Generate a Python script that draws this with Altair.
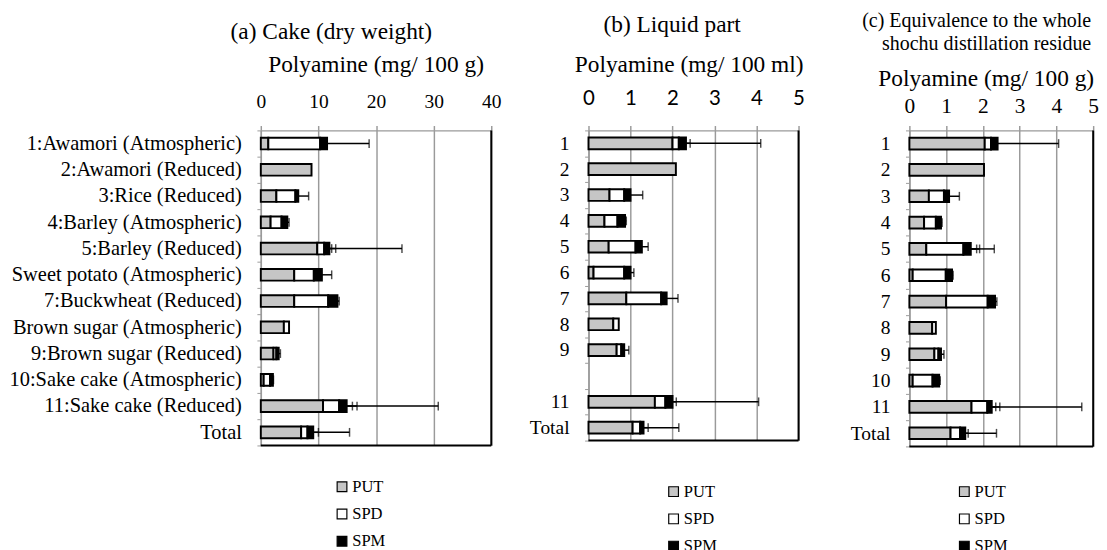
import altair as alt
import pandas as pd

SERIF = "Liberation Serif"
SANS = "Lato"
GRID = "#9a9a9a"

SERIES = ["PUT", "SPD", "SPM"]
SERIES_FILL = ["#c6c6c6", "#ffffff", "#000000"]

# ---------------- (a) Cake (dry weight) ----------------
cats_a = ["1:Awamori (Atmospheric)", "2:Awamori (Reduced)", "3:Rice (Reduced)",
          "4:Barley (Atmospheric)", "5:Barley (Reduced)", "Sweet potato (Atmospheric)",
          "7:Buckwheat (Reduced)", "Brown sugar (Atmospheric)", "9:Brown sugar (Reduced)",
          "10:Sake cake (Atmospheric)", "11:Sake cake (Reduced)", "Total"]
put_a = [1.3, 8.8, 2.7, 1.7, 9.8, 5.8, 5.8, 4.0, 2.2, 0.5, 10.8, 7.0]
spd_a = [9.0, 0.0, 3.3, 1.9, 1.2, 3.4, 5.9, 0.9, 0.5, 1.1, 2.8, 1.1]
spm_a = [1.2, 0.0, 0.5, 1.0, 0.9, 1.4, 1.6, 0.0, 0.4, 0.5, 1.3, 1.0]
put_err_a = [0.5, 0.0, 0.4, 0.3, 3.2, 0.5, 0.6, 0.0, 0.2, 0.1, 5.9, 0.8]
spd_err_a = [0.9, 0.0, 0.3, 0.3, 1.3, 0.5, 0.5, 0.0, 0.2, 0.2, 2.3, 1.9]
spm_err_a = [7.3, 0.0, 1.8, 0.3, 12.6, 1.7, 0.3, 0.0, 0.3, 0.1, 15.9, 6.3]
ticks_a = [0, 10, 20, 30, 40]

# ---------------- (b) Liquid part ----------------
cats_bc = ["1", "2", "3", "4", "5", "6", "7", "8", "9", "10", "11", "Total"]
put_b = [2.0, 2.08, 0.5, 0.38, 0.48, 0.12, 0.9, 0.59, 0.67, None, 1.58, 1.05]
spd_b = [0.15, 0.0, 0.35, 0.31, 0.64, 0.73, 0.83, 0.13, 0.11, None, 0.25, 0.18]
spm_b = [0.17, 0.0, 0.15, 0.18, 0.15, 0.15, 0.13, 0.0, 0.07, None, 0.17, 0.08]
put_err_b = [0.1, 0.0, 0.05, 0.05, 0.1, 0.05, 0.1, 0.03, 0.05, None, 0.15, 0.1]
spd_err_b = [0.27, 0.0, 0.1, 0.05, 0.1, 0.08, 0.1, 0.0, 0.05, None, 0.26, 0.19]
spm_err_b = [1.78, 0.0, 0.29, 0.03, 0.15, 0.08, 0.27, 0.0, 0.11, None, 2.05, 0.84]
ticks_bc = [0, 1, 2, 3, 4, 5]

# ---------------- (c) Equivalence to whole residue ----------------
put_c = [2.05, 2.03, 0.53, 0.4, 0.46, 0.09, 1.0, 0.62, 0.68, 0.09, 1.69, 1.12]
spd_c = [0.17, 0.0, 0.41, 0.32, 1.01, 0.9, 1.13, 0.1, 0.11, 0.54, 0.43, 0.26]
spm_c = [0.18, 0.0, 0.14, 0.14, 0.2, 0.17, 0.2, 0.0, 0.07, 0.18, 0.12, 0.14]
put_err_c = [0.1, 0.0, 0.05, 0.05, 1.45, 0.05, 0.1, 0.03, 0.05, 0.03, 0.77, 0.1]
spd_err_c = [0.1, 0.0, 0.1, 0.05, 0.36, 0.08, 0.1, 0.0, 0.05, 0.05, 0.23, 0.22]
spm_err_c = [1.66, 0.0, 0.28, 0.03, 0.64, 0.03, 0.05, 0.0, 0.08, 0.03, 2.45, 0.85]


def make_df(cats, put, spd, spm, put_err, spd_err, spm_err):
    rows = []
    for i, cat in enumerate(cats):
        if put[i] is None:
            continue
        start = 0.0
        for s, v, e in zip(SERIES, (put[i], spd[i], spm[i]), (put_err[i], spd_err[i], spm_err[i])):
            end = start + v
            rows.append({"cat": cat, "series": s, "start": start, "end": end,
                         "value": v, "err": e, "err_end": end + e})
            start = end
    return pd.DataFrame(rows)


def panel(df, cats, W, H, xmax, xvals, xtitle, ttl, tick_font, tick_size, label_pad,
          title_x, title_y, yextent, ylab_size, ylab_pad, legend_x, legend_y, label_expr=None):
    xaxis = alt.Axis(orient="top", values=xvals, grid=True, gridColor=GRID, gridWidth=1.5,
                     domainColor=GRID, domainWidth=1.5, tickColor=GRID, tickSize=5, tickWidth=1.5,
                     labelFont=tick_font, labelFontSize=tick_size, labelColor="black",
                     labelFlush=False, labelBaseline="middle", labelPadding=label_pad,
                     labelOverlap=False, title=xtitle, titleFont=SERIF, titleFontSize=24,
                     titleFontWeight="normal", titleColor="black", titleX=title_x, titleY=title_y,
                     titleAlign="center", titleBaseline="middle")
    xscale = alt.Scale(domain=[0, xmax], nice=False, zero=True)
    ykw = dict(title=None, labelFont=SERIF, labelFontSize=ylab_size, labelColor="black",
               labelPadding=ylab_pad, labelLimit=400, tickBand="extent", tickSize=4,
               tickColor=GRID, domainColor=GRID, domainWidth=1.5,
               minExtent=yextent, maxExtent=yextent)
    if label_expr:
        ykw["labelExpr"] = label_expr
    yenc = alt.Y("cat:N", scale=alt.Scale(domain=cats, paddingInner=0, paddingOuter=0),
                 axis=alt.Axis(**ykw))
    legend = alt.Legend(orient="none", legendX=legend_x, legendY=legend_y, direction="vertical",
                        title=None, symbolType="square", symbolSize=100,
                        symbolStrokeColor="black", symbolStrokeWidth=1.2,
                        labelFont=SERIF, labelFontSize=17, labelColor="black",
                        rowPadding=10, labelOffset=2)
    base = alt.Chart(df)
    layers = []
    for s in SERIES:
        d = base.transform_filter(alt.datum.series == s)
        layers.append(
            d.transform_filter(alt.datum.value > 0)
            .mark_bar(size=12, stroke="black", strokeWidth=2)
            .encode(x=alt.X("start:Q", scale=xscale, axis=xaxis), x2="end:Q", y=yenc,
                    fill=alt.Fill("series:N", scale=alt.Scale(domain=SERIES, range=SERIES_FILL),
                                  legend=legend))
        )
        e = d.transform_filter(alt.datum.err > 0)
        layers.append(
            e.mark_rule(color="black", strokeWidth=1.5)
            .encode(x=alt.X("end:Q", scale=xscale, axis=xaxis), x2="err_end:Q", y=yenc)
        )
        layers.append(
            e.mark_tick(color="black", thickness=1.5, size=9)
            .encode(x=alt.X("err_end:Q", scale=xscale, axis=xaxis), y=yenc)
        )
    frame = alt.Chart(alt.Data(values=[{"k": 0}]))
    layers.append(frame.mark_rule(color="black", strokeWidth=2)
                  .encode(x=alt.value(W), y=alt.value(0), y2=alt.value(H)))
    layers.append(frame.mark_rule(color="black", strokeWidth=2)
                  .encode(x=alt.value(0), x2=alt.value(W), y=alt.value(H)))
    return alt.layer(*layers).properties(width=W, height=H, title=ttl)


df_a = make_df(cats_a, put_a, spd_a, spm_a, put_err_a, spd_err_a, spm_err_a)
df_b = make_df(cats_bc, put_b, spd_b, spm_b, put_err_b, spd_err_b, spm_err_b)
df_c = make_df(cats_bc, put_c, spd_c, spm_c, put_err_c, spd_err_c, spm_err_c)

pa = panel(df_a, cats_a, 237, 324, 40, ticks_a, "Polyamine (mg/ 100 g)",
           alt.Title("(a) Cake (dry weight)", font=SERIF, fontSize=24, fontWeight="normal",
                     color="black", anchor="middle", frame="group", offset=9, dx=-46),
           SERIF, 20, 25, 118, -68, 255, 21, 16, 75, 358)
pb = panel(df_b, cats_bc, 216, 319, 5, ticks_bc, "Polyamine (mg/ 100 ml)",
           alt.Title("(b) Liquid part", font=SERIF, fontSize=24, fontWeight="normal",
                     color="black", anchor="middle", frame="group", offset=16.5, dx=-22),
           SANS, 21, 28, 103, -68, 78, 20, 16, 79, 363,
           label_expr="datum.value == '10' ? '' : datum.value")
pc = panel(df_c, cats_bc, 189, 325, 5, ticks_bc, "Polyamine (mg/ 100 g)",
           alt.Title(["(c) Equivalence to the whole", "shochu distillation residue"], font=SERIF,
                     fontSize=20.5, fontWeight="normal", color="black", anchor="end",
                     frame="group", offset=13.5, dx=-2, lineHeight=23),
           SERIF, 22, 20, 78.5, -53, 96, 20, 16, 48, 363)

chart = (
    alt.hconcat(pa, pb, pc, spacing=10)
    .resolve_scale(x="independent", y="independent", fill="independent")
    .resolve_legend(fill="independent")
    .properties(padding={"top": -5, "left": 0, "right": 0, "bottom": 0})
    .configure_view(stroke="transparent")
)

chart.save("out.html", embed_options={"renderer": "svg", "actions": False})
